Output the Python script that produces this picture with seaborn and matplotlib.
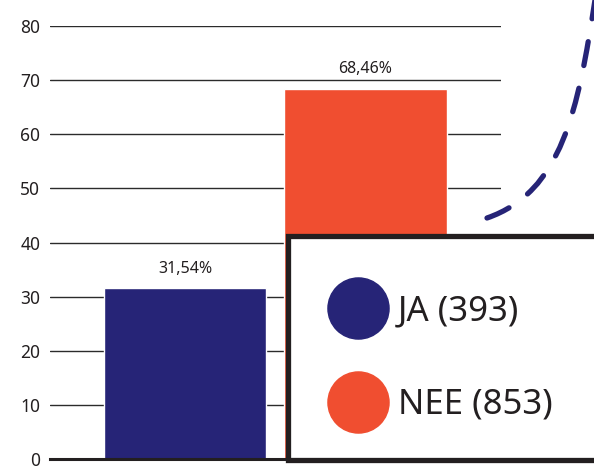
import matplotlib
matplotlib.use("Agg")
import matplotlib.pyplot as plt
from matplotlib.lines import Line2D
from matplotlib.patches import Rectangle, PathPatch
from matplotlib.path import Path
import seaborn as sns

# Data
groups = ["JA", "NEE"]
shares = [31.54, 68.46]
counts = [393, 853]
colors = ["#262477", "#F04E30"]
yticks = [0, 10, 20, 30, 40, 50, 60, 70, 80]

sns.set_style("white")
plt.rcParams["font.family"] = ["Noto Sans", "DejaVu Sans"]

fig = plt.figure(figsize=(5.94, 4.66), dpi=100)
ax = fig.add_axes([0.084, 0.015, 0.759, 0.929])

ax.grid(axis="y", color="#2b2b2b", linewidth=1.0, zorder=0)
ax.set_axisbelow(True)

sns.barplot(x=groups, y=shares, hue=groups, palette=colors, width=0.9,
            saturation=1, legend=False, ax=ax, zorder=2)

ax.set_ylim(0, 80)
ax.set_xlim(-0.75, 1.75)
ax.set_yticks(yticks)
ax.set_xticks([])
ax.tick_params(axis="y", length=0, pad=7, labelsize=12.5, colors="#231f20")
for s in ["top", "right", "left"]:
    ax.spines[s].set_visible(False)
ax.spines["bottom"].set_color("#231f20")
ax.spines["bottom"].set_linewidth(2.2)
ax.spines["bottom"].set_zorder(3)

# value labels with comma decimal
for cont in ax.containers:
    ax.bar_label(cont, labels=[f"{v:.2f}%".replace(".", ",") for v in cont.datavalues],
                 padding=8, fontsize=11.5, color="#231f20")

# decorative dashed swoosh (figure coords)
W, H = 594, 466
pts = [(487, 218), (562, 192), (578, 110), (595, 0)]
verts = [(x / W, 1 - y / H) for x, y in pts]
swoosh = PathPatch(Path(verts, [Path.MOVETO, Path.CURVE4, Path.CURVE4, Path.CURVE4]),
                   transform=fig.transFigure, fill=False, edgecolor=colors[0],
                   linewidth=3.8, linestyle=(0, (4.6, 4.4)), capstyle="round")
fig.add_artist(swoosh)

# legend box
box = Rectangle((287.5 / W, 1 - 460 / H), (620 - 287.5) / W, (460 - 235.5) / H,
                transform=fig.transFigure, facecolor="white", edgecolor="#231f20",
                linewidth=3.8, zorder=5, clip_on=False)
fig.add_artist(box)

handles = [Line2D([], [], marker="o", linestyle="", markersize=44, color=c)
           for c in colors]
labels = [f"{g} ({n})" for g, n in zip(groups, counts)]
leg = fig.legend(handles, labels, loc="upper left",
                 bbox_to_anchor=(327 / W, 1 - 294 / H), frameon=False,
                 fontsize=25, handlelength=1.8, handletextpad=0.25,
                 labelspacing=1.72, borderaxespad=0, borderpad=0,
                 labelcolor="#231f20")
leg.set_zorder(6)

fig.savefig("out.png", dpi=100)
